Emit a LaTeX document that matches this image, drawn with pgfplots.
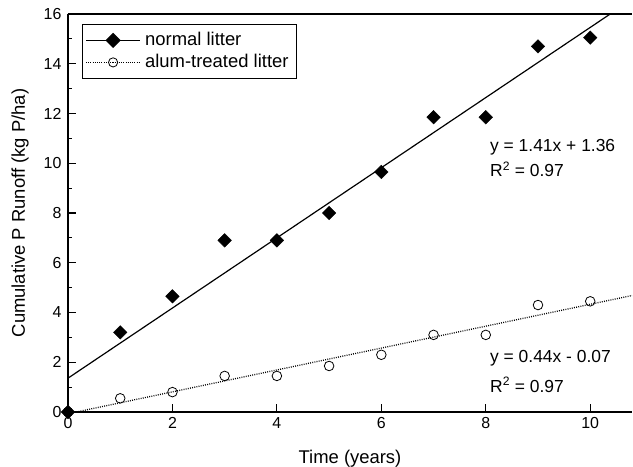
\documentclass[border=0pt]{standalone}
\usepackage{fontspec}
\setmainfont{Liberation Sans}
\usepackage{pgfplots}
\pgfplotsset{compat=1.18}

\pgfplotstableread{
x normal alum
0 0 0
1 3.2 0.55
2 4.65 0.8
3 6.9 1.45
4 6.9 1.45
5 8.0 1.85
6 9.65 2.3
7 11.85 3.1
8 11.85 3.1
9 14.7 4.3
10 15.05 4.45
}\runoff

\newcommand\tickfont{\fontsize{16}{19}\selectfont}
\newcommand\labfont{\fontsize{18.5}{22}\selectfont}
\newcommand\legfont{\fontsize{18.5}{22}\selectfont}
\newcommand\annfont{\fontsize{17.5}{21}\selectfont}

\begin{document}
\begin{tikzpicture}
\begin{axis}[
scale only axis,
width=564bp, height=398bp,
xmin=0, xmax=10.8,
ymin=0, ymax=16,
axis x line*=box,
axis y line*=left,
xtick={0,2,...,10},
ytick={0,2,...,16},
minor y tick num=1,
tick align=inside,
xtick pos=bottom,
ytick pos=left,
major tick length=8bp,
minor tick length=4.5bp,
axis line style={line width=1.1pt},
every tick/.style={black, line width=1.1pt},
/pgf/number format/assume math mode=true,
ticklabel style={font=\tickfont},
yticklabel style={xshift=-3bp},
xticklabel style={yshift=-2bp},
xlabel={Time (years)},
ylabel={Cumulative P Runoff (kg P/ha)},
xlabel style={font=\labfont, at={([yshift=-51bp]axis description cs:0.5,0)}, anchor=base},
ylabel style={font=\labfont, at={([xshift=-48bp]axis description cs:0,0.5)}, anchor=center},
clip=false,
legend cell align=left,
legend style={at={(0.025,0.975)}, anchor=north west, draw=black, line width=0.9pt,
  font=\legfont, row sep=0bp, inner xsep=3bp, inner ysep=5bp,
  nodes={inner xsep=4.5bp, inner ysep=2bp, text height=14bp, text depth=4bp}},
legend image code/.code={
  \draw[#1, mark repeat=2, mark phase=2] plot coordinates {(0bp,0bp) (27bp,0bp) (54bp,0bp)};
},
dotline/.style={black, line width=1.3pt, dash pattern=on 0.9pt off 1.3pt},
]
\addlegendimage{black, line width=1.1pt, mark=square*, mark size=4.8bp, mark options={rotate=45, solid}}
\addlegendentry{normal litter}
\addlegendimage{dotline, line width=1pt, mark=o, mark size=4.6bp, mark options={solid, line width=0.8pt}}
\addlegendentry{alum-treated litter}

% regression lines, cut at the axis edges
\addplot[black, line width=1.2pt, forget plot] coordinates {(0,1.36) (10.383,16)};
\addplot[dotline, forget plot] coordinates {(0.159,0) (10.8,4.682)};

% data
\addplot[only marks, mark=o, mark size=4.8bp, mark options={line width=0.8pt, fill=white}, black, forget plot]
  table[x=x, y=alum] {\runoff};
\addplot[only marks, mark=square*, mark size=4.8bp, mark options={rotate=45, fill=black}, black, forget plot]
  table[x=x, y=normal] {\runoff};

\node[anchor=base west, inner sep=0pt, font=\annfont] at (axis cs:8.08,10.49) {y = 1.41x + 1.36};
\node[anchor=base west, inner sep=0pt, font=\annfont] at (axis cs:8.08,9.45) {R\textsuperscript{2} = 0.97};
\node[anchor=base west, inner sep=0pt, font=\annfont] at (axis cs:8.08,2.01) {y = 0.44x - 0.07};
\node[anchor=base west, inner sep=0pt, font=\annfont] at (axis cs:8.08,0.80) {R\textsuperscript{2} = 0.97};

\coordinate (sw) at (rel axis cs:0,0);
\coordinate (ne) at (rel axis cs:1,1);
\end{axis}
\pgfresetboundingbox
\path[use as bounding box] ([shift={(-68bp,-55bp)}]sw) rectangle ([shift={(1bp,14bp)}]ne);
\end{tikzpicture}
\end{document}
